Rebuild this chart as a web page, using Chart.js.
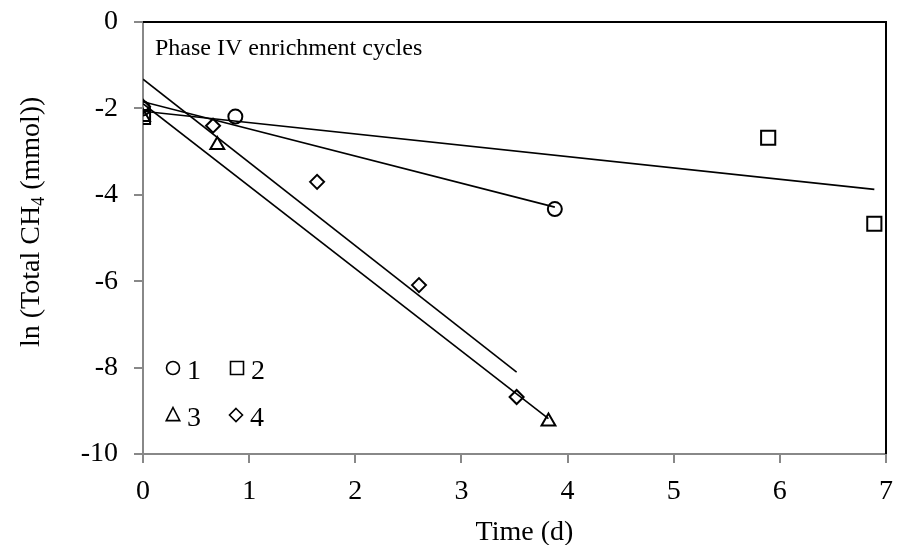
<!DOCTYPE html>
<html>
<head>
<meta charset="utf-8">
<script src="https://cdn.jsdelivr.net/npm/chart.js@4/dist/chart.umd.min.js"></script>
<style>
  html, body { margin: 0; padding: 0; background: #fff; }
  #wrap { width: 898px; height: 545px; }
</style>
</head>
<body>
<div id="wrap"><canvas id="ch4-chart" width="898" height="545"></canvas></div>
<script>
// cycle 1 (circles)
var cycle1X = [0, 0.87, 3.88];
var cycle1Y = [-2.0, -2.19, -4.33];
// cycle 2 (squares)
var cycle2X = [0, 5.89, 6.89];
var cycle2Y = [-2.2, -2.68, -4.67];
// cycle 3 (triangles)
var cycle3X = [0, 0.70, 3.82];
var cycle3Y = [-2.2, -2.85, -9.25];
// cycle 4 (diamonds)
var cycle4X = [0, 0.66, 1.64, 2.60, 3.52];
var cycle4Y = [-1.96, -2.40, -3.70, -6.09, -8.68];

var xTicks = [0, 1, 2, 3, 4, 5, 6, 7];
var yTicks = [0, -2, -4, -6, -8, -10];

var serif = "'Liberation Serif', 'Times New Roman', serif";
var bigFont = 28;

function points(xs, ys) {
  var out = [];
  for (var i = 0; i < xs.length; i++) out.push({x: xs[i], y: ys[i]});
  return out;
}

// least squares line, drawn from 0 to the last sample
function trend(xs, ys) {
  var n = xs.length, mx = 0, my = 0, sxx = 0, sxy = 0;
  for (var i = 0; i < n; i++) { mx += xs[i]; my += ys[i]; }
  mx /= n; my /= n;
  for (var j = 0; j < n; j++) {
    sxx += (xs[j] - mx) * (xs[j] - mx);
    sxy += (xs[j] - mx) * (ys[j] - my);
  }
  var m = sxy / sxx, b = my - m * mx;
  var xe = Math.max.apply(null, xs);
  return [{x: 0, y: b}, {x: xe, y: m * xe + b}];
}

function markerSet(label, xs, ys, style, r) {
  return {
    label: label,
    data: points(xs, ys),
    showLine: false,
    pointStyle: style,
    pointRadius: r,
    pointHoverRadius: r,
    pointBorderColor: '#000',
    pointBackgroundColor: 'rgba(0,0,0,0)',
    pointBorderWidth: 2
  };
}

function lineSet(xs, ys) {
  return {
    label: 'fit',
    data: trend(xs, ys),
    showLine: true,
    borderColor: '#000',
    borderWidth: 1.6,
    pointRadius: 0,
    fill: false
  };
}

function shape(ctx, style, x, y, r) {
  ctx.beginPath();
  if (style == 'circle') {
    ctx.arc(x, y, r, 0, Math.PI * 2);
  } else if (style == 'rect') {
    ctx.rect(x - r, y - r, 2 * r, 2 * r);
  } else if (style == 'triangle') {
    ctx.moveTo(x, y - r);
    ctx.lineTo(x + r * 0.9, y + r * 0.75);
    ctx.lineTo(x - r * 0.9, y + r * 0.75);
    ctx.closePath();
  } else {
    ctx.moveTo(x, y - r);
    ctx.lineTo(x + r, y);
    ctx.lineTo(x, y + r);
    ctx.lineTo(x - r, y);
    ctx.closePath();
  }
  ctx.stroke();
}

var decor = {
  id: 'decor',
  afterDraw: function(chart) {
    var ctx = chart.ctx, a = chart.chartArea;
    ctx.save();
    // top and right frame
    ctx.strokeStyle = '#000';
    ctx.lineWidth = 2;
    ctx.beginPath();
    ctx.moveTo(a.left, a.top);
    ctx.lineTo(a.right, a.top);
    ctx.lineTo(a.right, a.bottom);
    ctx.stroke();

    ctx.fillStyle = '#000';
    ctx.textBaseline = 'alphabetic';
    ctx.textAlign = 'left';

    // panel label
    ctx.font = '24px ' + serif;
    ctx.fillText('Phase IV enrichment cycles', a.left + 12, a.top + 33);

    // legend, two rows
    var items = [
      ['circle', '1', a.left + 30, a.top + 346, 6.5],
      ['rect', '2', a.left + 94, a.top + 346, 6.5],
      ['triangle', '3', a.left + 30, a.top + 393, 7.5],
      ['rectRot', '4', a.left + 93, a.top + 393, 6.5]
    ];
    ctx.font = bigFont + 'px ' + serif;
    ctx.lineWidth = 1.6;
    items.forEach(function(it) {
      shape(ctx, it[0], it[2], it[3], it[4]);
      ctx.fillText(it[1], it[2] + 14, it[3] + 11);
    });

    // x axis title
    ctx.textAlign = 'center';
    ctx.fillText('Time (d)', (a.left + a.right) / 2 + 10, 540);

    // y axis title with subscript
    ctx.translate(39, 347);
    ctx.rotate(-Math.PI / 2);
    ctx.textAlign = 'left';
    var p1 = 'ln (Total CH', sub = '4', p2 = ' (mmol))';
    ctx.font = bigFont + 'px ' + serif;
    ctx.fillText(p1, 0, 0);
    var w = ctx.measureText(p1).width;
    ctx.font = '18px ' + serif;
    ctx.fillText(sub, w, 5);
    w += ctx.measureText(sub).width;
    ctx.font = bigFont + 'px ' + serif;
    ctx.fillText(p2, w, 0);
    ctx.restore();
  }
};

new Chart(document.getElementById('ch4-chart'), {
  type: 'scatter',
  data: {
    datasets: [
      lineSet(cycle1X, cycle1Y),
      lineSet(cycle2X, cycle2Y),
      lineSet(cycle3X, cycle3Y),
      lineSet(cycle4X, cycle4Y),
      markerSet('1', cycle1X, cycle1Y, 'circle', 7),
      markerSet('2', cycle2X, cycle2Y, 'rect', 10),
      markerSet('3', cycle3X, cycle3Y, 'triangle', 8),
      markerSet('4', cycle4X, cycle4Y, 'rectRot', 7)
    ]
  },
  options: {
    responsive: false,
    animation: false,
    layout: { padding: { top: 22, right: 8, left: 0, bottom: 0 } },
    plugins: {
      legend: { display: false },
      tooltip: { enabled: false }
    },
    scales: {
      x: {
        type: 'linear',
        min: 0,
        max: 7,
        afterBuildTicks: function(s) { s.ticks = xTicks.map(function(v) { return {value: v}; }); },
        afterFit: function(s) { s.height = 91; s.paddingLeft = 0; s.paddingRight = 0; },
        grid: { drawOnChartArea: false, drawTicks: true, tickLength: 9, color: '#888', lineWidth: 2 },
        border: { color: '#888', width: 2 },
        ticks: { color: '#000', padding: 12, font: { family: serif, size: bigFont } }
      },
      y: {
        type: 'linear',
        min: -10,
        max: 0,
        afterBuildTicks: function(s) { s.ticks = yTicks.map(function(v) { return {value: v}; }); },
        afterFit: function(s) { s.width = 143; s.paddingTop = 0; s.paddingBottom = 0; },
        grid: { drawOnChartArea: false, drawTicks: true, tickLength: 9, color: '#888', lineWidth: 2 },
        border: { color: '#888', width: 2 },
        ticks: { color: '#000', padding: 16, font: { family: serif, size: bigFont } }
      }
    }
  },
  plugins: [decor]
});
</script>
</body>
</html>
